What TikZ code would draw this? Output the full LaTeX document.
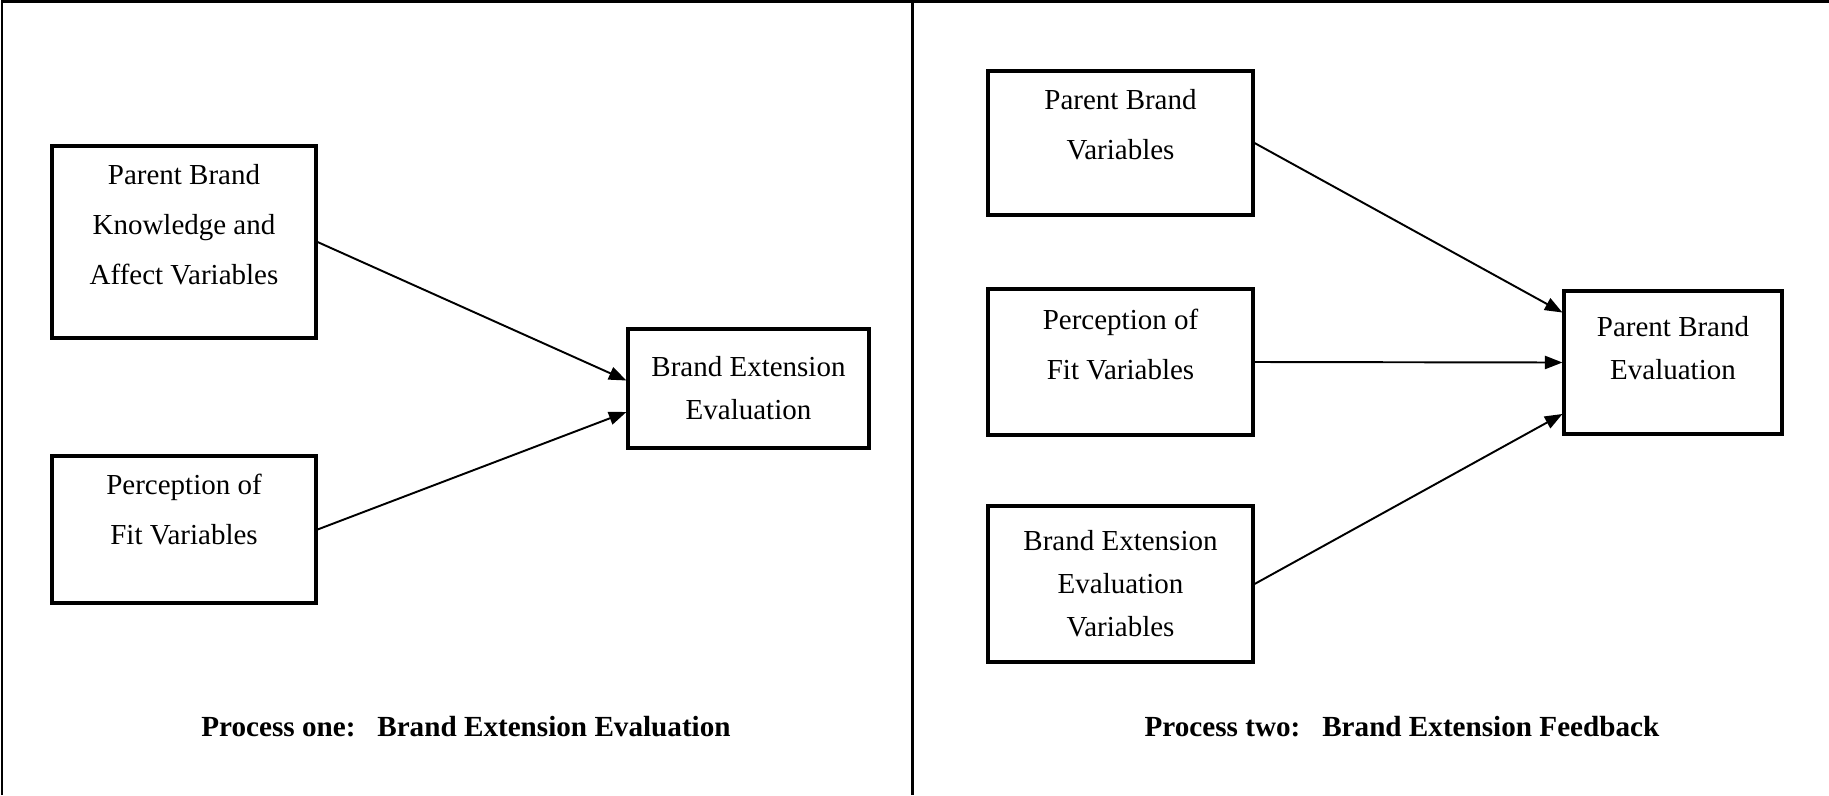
\documentclass[tikz,border=0pt]{standalone}
\usepackage{fontspec}
\setmainfont{Liberation Serif}
\usepackage{tikz}
\usetikzlibrary{positioning, arrows.meta}
\tikzset{
	>={Triangle[length=10pt, width=7.5pt]}, % filled arrow heads
	varbox/.style={draw, line width=1.8pt, align=center, inner sep=0pt,
		font=\fontsize{16.5}{28.5}\selectfont}, % the variable boxes
	tight/.style={font=\fontsize{16.5}{24.5}\selectfont}, % closer lines
	caption/.style={font=\fontsize{16.6}{20}\selectfont\bfseries}, % process titles
}

\begin{document}
\begin{tikzpicture}[x=0.02cm, y=-0.02cm]
		\useasboundingbox (0,0) rectangle (1829,795);
		% Frame
		\draw[line width=1.7pt] (2,795) -- (2,1.5) -- (1829,1.5);
		\draw[line width=1.7pt] (912,1.5) -- (912,795);
		
		% Process one
		\node[varbox, minimum width=5.28cm, minimum height=3.84cm, text depth=0.7cm] (pbk) at (184,242) {Parent Brand\\ Knowledge and\\ Affect Variables};
		\node[varbox, minimum width=5.28cm, minimum height=2.94cm, text depth=0.8cm] (fit1) at (184,529.5) {Perception of\\ Fit Variables};
		\node[varbox, tight, minimum width=4.82cm, minimum height=2.38cm] (bee) at (748.5,388.5) {Brand Extension\\ Evaluation};
		\node[caption] (title1) at (466,727) {Process one:~~~Brand Extension Evaluation};
		
		% Process two
		\node[varbox, minimum width=5.3cm, minimum height=2.88cm, text depth=0.75cm] (pbv) at (1120.5,143) {Parent Brand\\ Variables};
		\node[varbox, minimum width=5.3cm, minimum height=2.92cm, text depth=0.7cm] (fit2) at (1120.5,362) {Perception of\\ Fit Variables};
		\node[varbox, tight, minimum width=5.3cm, minimum height=3.12cm] (beev) at (1120.5,584) {Brand Extension\\ Evaluation\\ Variables};
		\node[varbox, tight, minimum width=4.36cm, minimum height=2.86cm, text depth=0.6cm] (pbe) at (1673,362.5) {Parent Brand\\ Evaluation};
		\node[caption] (title2) at (1402,727) {Process two:~~~Brand Extension Feedback};
		
		% Arrows
		\path[->, line width=1.1pt]
		(pbk.east) edge ([yshift=0.16cm]bee.west)
		(fit1.east) edge ([yshift=-0.47cm]bee.west)
		(pbv.east) edge ([yshift=1cm]pbe.west)
		(fit2.east) edge (pbe.west)
		(beev.east) edge ([yshift=-1.03cm]pbe.west);
	\end{tikzpicture}
\end{document}
